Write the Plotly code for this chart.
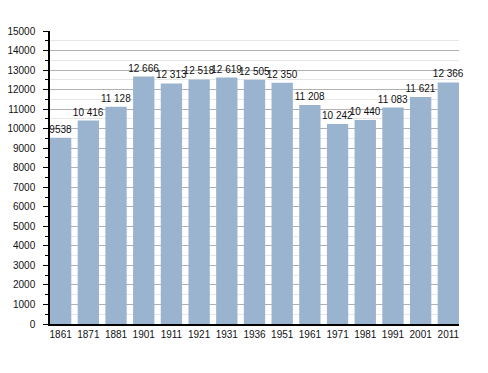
import plotly.graph_objects as go

years = ["1861", "1871", "1881", "1901", "1911", "1921", "1931", "1936",
         "1951", "1961", "1971", "1981", "1991", "2001", "2011"]
population = [9538, 10416, 11128, 12666, 12313, 12518, 12619, 12505,
              12350, 11208, 10242, 10440, 11083, 11621, 12366]
labels = ["9538", "10 416", "11 128", "12 666", "12 313", "12 518", "12 619", "12 505",
          "12 350", "11 208", "10 242", "10 440", "11 083", "11 621", "12 366"]
y_ticks = list(range(0, 15001, 1000))

bargap = 0.23
fig = go.Figure(go.Bar(
    x=years, y=population, text=labels,
    textposition="outside", constraintext="none", cliponaxis=False,
    textfont=dict(family="Liberation Sans, Arial", size=10, color="#111"),
    marker=dict(color="#9ab3cf", line=dict(width=0)),
))

# page body has an 8px default margin, so the figure is shrunk by 8px
fig.update_layout(
    width=480, height=365,
    margin=dict(l=42, r=29, t=23, b=49, autoexpand=False),
    paper_bgcolor="white", plot_bgcolor="white",
    bargap=bargap, showlegend=False,
    font=dict(family="Liberation Sans, Arial", size=10, color="#111"),
)
fig.update_xaxes(
    type="category", range=[-0.5 + bargap / 2, len(years) - 0.5 - bargap / 2],
    showline=True, linecolor="black", linewidth=1.5,
    ticks="", showgrid=False, tickfont=dict(size=10), automargin=False,
)
fig.update_yaxes(
    range=[0, 15000], tickvals=y_ticks, ticktext=[str(v) for v in y_ticks],
    showline=True, linecolor="black", linewidth=1.5,
    ticks="outside", ticklen=5, tickcolor="black", tickwidth=1,
    ticklabelstandoff=6, automargin=False,
    showgrid=True, gridcolor="#b0b0b0", gridwidth=1,
    minor=dict(dtick=500, showgrid=True, gridcolor="#e6e6e6", ticks="outside",
               ticklen=3, tickcolor="black"),
    zeroline=False, tickfont=dict(size=10),
)

fig.write_html("out.html")
